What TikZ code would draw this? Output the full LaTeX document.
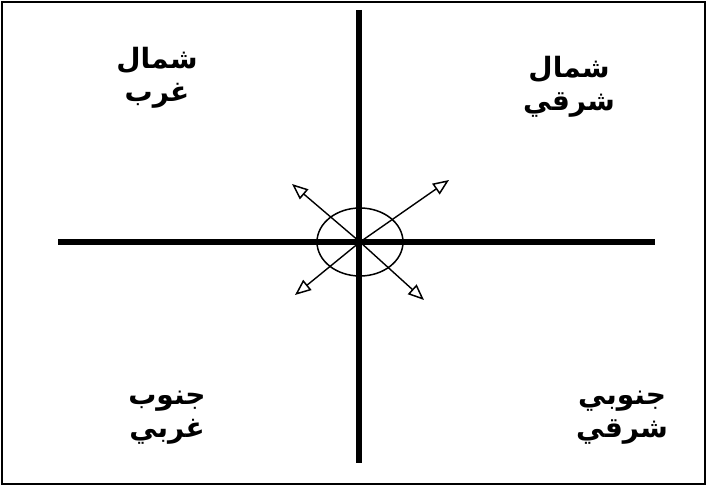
\documentclass[tikz,border=0pt]{standalone}
\usepackage{fontspec}
\usetikzlibrary{arrows.meta,shapes.geometric}
\TeXXeTstate=1
\newfontfamily\arabicfont[Script=Arabic]{DejaVu Sans}
\begin{document}
\begin{tikzpicture}[x=1pt,y=-1pt,
  axis/.style={line width=6.5pt},
  dirarrow/.style={line width=1.4pt,-{Triangle[open,length=16pt,width=13pt,line width=1.5pt]}},
  lbl/.style={font=\arabicfont\bfseries\fontsize{28}{33}\selectfont,align=center,inner sep=0pt}]
\useasboundingbox (0,0) rectangle (707,486);
\draw[line width=2.5pt] (2,2) rectangle (705,484);
\coordinate (top) at (359,10);
\coordinate (bot) at (359,463);
\coordinate (left) at (58,242);
\coordinate (right) at (655,242);
\coordinate (c) at (360,242);
\draw[axis] (top) -- (bot);
\draw[axis] (left) -- (right);
\node[draw,line width=1.5pt,ellipse,minimum width=86pt,minimum height=68pt,inner sep=0pt] (ell) at (c) {};
\coordinate (ne) at (449,180);
\coordinate (nw) at (292,184);
\coordinate (sw) at (295,295);
\coordinate (se) at (424,300);
\draw[dirarrow] (c) -- (ne);
\draw[dirarrow] (c) -- (nw);
\draw[dirarrow] (c) -- (sw);
\draw[dirarrow] (c) -- (se);
\node[lbl] (nwl) at (157,78) {\beginR شمال\endR\\\beginR غرب\endR};
\node[lbl] (nel) at (569,87) {\beginR شمال\endR\\\beginR شرقي\endR};
\node[lbl] (swl) at (167,418) {\beginR جنوب\endR\\\beginR غربي\endR};
\node[lbl] (sel) at (622,418) {\beginR جنوبي\endR\\\beginR شرقي\endR};
\end{tikzpicture}
\end{document}
